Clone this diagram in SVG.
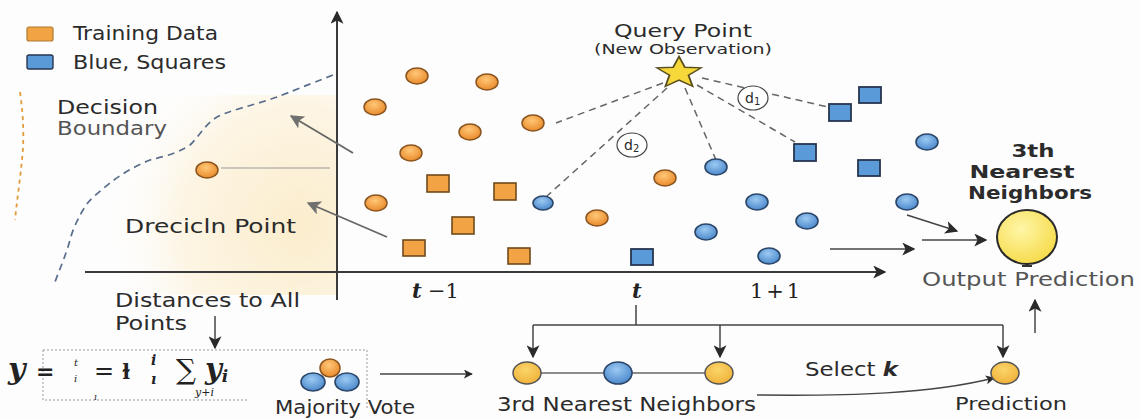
<svg xmlns="http://www.w3.org/2000/svg" width="1140" height="419" viewBox="0 0 1140 419">
<defs>
<style>
.t{font-family:"DejaVu Sans","Liberation Sans",sans-serif;fill:#2b2b2b}
.g{font-family:"DejaVu Sans","Liberation Sans",sans-serif;fill:#555}
.m{font-family:"DejaVu Serif","Liberation Serif",serif;fill:#222}
.oc{fill:url(#og);stroke:#8a5520;stroke-width:1.5}
.bc{fill:url(#bg);stroke:#2c4668;stroke-width:1.6}
.yc{fill:url(#yg);stroke:#555;stroke-width:1.5}
.os{fill:#f2a344;stroke:#6e4a1c;stroke-width:1.6}
.bs{fill:#5a9ad8;stroke:#26364f;stroke-width:1.8}
.ax{stroke:#3a3a3a;stroke-width:2;fill:none}
.dash{stroke:#666;stroke-width:1.5;stroke-dasharray:7 5;fill:none}
.ln{stroke:#444;stroke-width:1.5;fill:none}
.gr{stroke:#666;stroke-width:1.8;fill:none}
.dot{stroke:#999;stroke-width:1;stroke-dasharray:2 2;fill:none}
</style>
<radialGradient id="og" cx="45%" cy="35%" r="65%"><stop offset="0" stop-color="#ffc778"/><stop offset="1" stop-color="#ea8a2a"/></radialGradient>
<radialGradient id="bg" cx="45%" cy="35%" r="65%"><stop offset="0" stop-color="#9ccaf2"/><stop offset="1" stop-color="#4b88cc"/></radialGradient>
<radialGradient id="yg" cx="45%" cy="35%" r="65%"><stop offset="0" stop-color="#fbd56a"/><stop offset="1" stop-color="#f0b23a"/></radialGradient>
<radialGradient id="big" cx="40%" cy="35%" r="65%"><stop offset="0" stop-color="#fff6a8"/><stop offset="1" stop-color="#f6dc4e"/></radialGradient>
<radialGradient id="beige" cx="300" cy="225" r="200" gradientUnits="userSpaceOnUse"><stop offset="0" stop-color="#fbedcd"/><stop offset="0.6" stop-color="#fdf5e4"/><stop offset="1" stop-color="#ffffff" stop-opacity="0"/></radialGradient>
<marker id="ah" viewBox="0 0 10 10" refX="9" refY="5" markerWidth="9" markerHeight="9" markerUnits="userSpaceOnUse" orient="auto"><path d="M0,0 L10,5 L0,10 L2.5,5 z" fill="#2a2a2a"/></marker>
<marker id="ahb" viewBox="0 0 10 10" refX="9" refY="5" markerWidth="13" markerHeight="13" markerUnits="userSpaceOnUse" orient="auto"><path d="M0,0 L10,5 L0,10 L2.5,5 z" fill="#2a2a2a"/></marker>
<marker id="ahg" viewBox="0 0 10 10" refX="9" refY="5" markerWidth="14" markerHeight="14" markerUnits="userSpaceOnUse" orient="auto"><path d="M0,0 L10,5 L0,10 L2.5,5 z" fill="#707070"/></marker>
</defs>
<rect width="1140" height="419" fill="#fdfdfd"/>
<rect x="85" y="95" width="251" height="200" fill="url(#beige)"/>

<g id="legend">
<rect x="27" y="27" width="26" height="14" rx="2" fill="#f2a344" stroke="#b07a30" stroke-width="1.2"/>
<text class="t" x="73" y="40" font-size="19.5" textLength="145" lengthAdjust="spacingAndGlyphs">Training Data</text>
<rect x="27" y="55" width="26" height="14" rx="2" fill="#5a9ad8" stroke="#26364f" stroke-width="1.4"/>
<text class="t" x="73" y="69" font-size="19.5" textLength="153" lengthAdjust="spacingAndGlyphs">Blue, Squares</text>
</g>

<g id="decision-boundary">
<path d="M333,75 C310,84 290,92 277,97 C255,105 230,110 217,117 C205,124 198,138 190,145 C175,155 160,157 150,160 C135,166 120,175 110,183 C98,193 88,200 83,210 C76,222 72,232 70,240 C66,255 60,268 55,282" stroke="#5a6e8c" stroke-width="1.7" stroke-dasharray="7 5" fill="none"/>
<path d="M20,92 C24,120 24,140 22,160 C20,180 17,200 15,220" stroke="#e09a3a" stroke-width="1.8" stroke-dasharray="4 4" fill="none"/>
<text class="t" x="57" y="114" font-size="19.5" textLength="101" lengthAdjust="spacingAndGlyphs">Decision</text>
<text class="g" x="57" y="135" font-size="19.5" textLength="110" lengthAdjust="spacingAndGlyphs">Boundary</text>
</g>

<g id="decision-point">
<ellipse class="oc" cx="207" cy="170" rx="11" ry="8"/>
<line x1="221" y1="168" x2="330" y2="168" stroke="#999" stroke-width="1.2"/>
<text class="t" x="125" y="233" font-size="19.5" textLength="171" lengthAdjust="spacingAndGlyphs">Drecicln Point</text>
</g>

<g id="axes">
<line class="ax" x1="337" y1="300" x2="337" y2="12" marker-end="url(#ahb)"/>
<line class="ax" x1="85" y1="272" x2="885" y2="272" marker-end="url(#ahb)"/>
<text class="m" x="412" y="298" font-size="21" font-weight="bold" font-style="italic">t</text>
<text class="m" x="428" y="298" font-size="21">−1</text>
<text class="m" x="632" y="298" font-size="21" font-weight="bold" font-style="italic">t</text>
<text class="m" x="750" y="298" font-size="21" textLength="50" lengthAdjust="spacing">1+1</text>
</g>

<g id="connectors">
<line class="gr" x1="353" y1="153" x2="291" y2="116" marker-end="url(#ahg)"/>
<line class="gr" x1="387" y1="237" x2="308" y2="203" marker-end="url(#ahg)"/>
<line class="dash" x1="663" y1="83" x2="556" y2="123"/>
<line class="dash" x1="667" y1="88" x2="547" y2="196"/>
<line class="dash" x1="685" y1="88" x2="716" y2="160"/>
<line class="dash" x1="697" y1="85" x2="795" y2="142"/>
<line class="dash" x1="702" y1="78" x2="828" y2="107"/>
<line class="ln" x1="907" y1="215" x2="957" y2="231" marker-end="url(#ahb)"/>
<line class="ln" x1="922" y1="240" x2="986" y2="240" marker-end="url(#ahb)"/>
<line class="ln" x1="830" y1="249" x2="914" y2="249" marker-end="url(#ahb)"/>
<line class="ln" x1="215" y1="316" x2="215" y2="348" stroke-width="2.2" marker-end="url(#ahb)"/>
<line class="ln" x1="380" y1="374" x2="472" y2="374" marker-end="url(#ah)"/>
<path class="ln" d="M636,305 V325 M533,325 H1003"/>
<line class="ln" x1="533" y1="325" x2="533" y2="357" marker-end="url(#ahb)"/>
<line class="ln" x1="720" y1="325" x2="720" y2="357" marker-end="url(#ahb)"/>
<line class="ln" x1="1003" y1="325" x2="1003" y2="357" marker-end="url(#ahb)"/>
<line class="ln" x1="1035" y1="333" x2="1035" y2="300" marker-end="url(#ahb)"/>
<path class="ln" d="M757,395 C850,396 930,394 994,378" marker-end="url(#ah)"/>
<line x1="541" y1="373" x2="604" y2="373" stroke="#666" stroke-width="1.3"/>
<line x1="632" y1="373" x2="705" y2="373" stroke="#666" stroke-width="1.3"/>
</g>

<g id="training-points">
<ellipse class="oc" cx="417" cy="76" rx="11" ry="8"/>
<ellipse class="oc" cx="487" cy="82" rx="11" ry="8"/>
<ellipse class="oc" cx="375" cy="107" rx="11" ry="8"/>
<ellipse class="oc" cx="470" cy="132" rx="11" ry="8"/>
<ellipse class="oc" cx="533" cy="123" rx="11" ry="8"/>
<ellipse class="oc" cx="411" cy="153" rx="11" ry="8"/>
<ellipse class="oc" cx="376" cy="203" rx="11" ry="8"/>
<ellipse class="oc" cx="597" cy="218" rx="11" ry="8"/>
<ellipse class="oc" cx="665" cy="178" rx="11" ry="8"/>
<rect class="os" x="427" y="175" width="22" height="17"/>
<rect class="os" x="494" y="183" width="22" height="17"/>
<rect class="os" x="452" y="217" width="22" height="17"/>
<rect class="os" x="403" y="240" width="22" height="16"/>
<rect class="os" x="508" y="248" width="22" height="16"/>
</g>

<g id="blue-points">
<ellipse class="bc" cx="543" cy="203" rx="10" ry="7"/>
<ellipse class="bc" cx="716" cy="167" rx="11" ry="8"/>
<ellipse class="bc" cx="927" cy="142" rx="11" ry="8"/>
<ellipse class="bc" cx="757" cy="202" rx="11" ry="8"/>
<ellipse class="bc" cx="907" cy="202" rx="11" ry="8"/>
<ellipse class="bc" cx="807" cy="221" rx="11" ry="8"/>
<ellipse class="bc" cx="706" cy="232" rx="11" ry="8"/>
<ellipse class="bc" cx="769" cy="256" rx="11" ry="8"/>
<rect class="bs" x="859" y="87" width="22" height="16"/>
<rect class="bs" x="829" y="104" width="22" height="17"/>
<rect class="bs" x="794" y="144" width="22" height="17"/>
<rect class="bs" x="858" y="160" width="22" height="16"/>
<rect class="bs" x="631" y="249" width="22" height="16"/>
</g>

<g id="query-point">
<polygon transform="translate(679,73) scale(1.05,0.75)" points="0,-22 5.58,-7.69 20.92,-6.8 9.04,2.94 12.93,17.8 0,9.5 -12.93,17.8 -9.04,2.94 -20.92,-6.8 -5.58,-7.69" fill="#f7d83a" stroke="#5a5020" stroke-width="1.8"/>
<text class="t" x="683" y="37" font-size="17" text-anchor="middle" textLength="138" lengthAdjust="spacingAndGlyphs">Query Point</text>
<text class="t" x="683" y="54" font-size="14" text-anchor="middle" textLength="178" lengthAdjust="spacingAndGlyphs">(New Observation)</text>
</g>

<g id="d1">
<ellipse cx="753" cy="98" rx="15" ry="12" fill="#fff" stroke="#444" stroke-width="1.2"/>
<text class="t" x="745" y="103" font-size="14">d<tspan font-size="10" dy="2">1</tspan></text>
</g>
<g id="d2">
<ellipse cx="632" cy="145" rx="15" ry="12" fill="#fff" stroke="#444" stroke-width="1.2"/>
<text class="t" x="624" y="150" font-size="14">d<tspan font-size="10" dy="2">2</tspan></text>
</g>

<g id="output-prediction">
<text class="t" x="1033" y="157" font-size="18" font-weight="bold" text-anchor="middle" textLength="43" lengthAdjust="spacingAndGlyphs">3th</text>
<text class="t" x="1022" y="178" font-size="18" font-weight="bold" text-anchor="middle" textLength="105" lengthAdjust="spacingAndGlyphs">Nearest</text>
<text class="t" x="1030" y="199" font-size="18" font-weight="bold" text-anchor="middle" textLength="124" lengthAdjust="spacingAndGlyphs">Neighbors</text>
<path d="M1027,265 V258 M1022,266 H1032" stroke="#333" stroke-width="2" fill="none"/>
<ellipse cx="1027" cy="237" rx="30" ry="27" fill="url(#big)" stroke="#2a2a2a" stroke-width="2"/>
<text class="g" x="922" y="286" font-size="20" textLength="213" lengthAdjust="spacingAndGlyphs">Output Prediction</text>
</g>

<g id="distances">
<text class="t" x="115" y="307" font-size="19.5" textLength="185" lengthAdjust="spacingAndGlyphs">Distances to All</text>
<text class="t" x="115" y="330" font-size="19.5" textLength="72" lengthAdjust="spacingAndGlyphs">Points</text>
</g>

<g id="formula">
<path class="dot" d="M43,350 H367 V408 M43,350 V400 H247"/>
<text class="m" x="8" y="379" font-size="30" font-weight="bold" font-style="italic">y</text>
<text class="m" x="36" y="379" font-size="22" font-weight="bold">=</text>
<text class="m" x="74" y="366" font-size="10" fill="#888" font-style="italic">t</text>
<text class="m" x="74" y="382" font-size="10" fill="#888" font-style="italic">i</text>
<text class="m" x="94" y="379" font-size="24">=</text>
<text class="m" x="122" y="379" font-size="20" font-weight="bold">ɫ</text>
<text class="m" x="151" y="365" font-size="14" font-weight="bold" font-style="italic">i</text>
<text class="m" x="151" y="384" font-size="14" font-weight="bold" font-style="italic">ı</text>
<text class="m" x="176" y="379" font-size="28">∑</text>
<text class="m" x="205" y="379" font-size="29" font-weight="bold" font-style="italic">y<tspan font-size="17" dy="3">i</tspan></text>
<text class="m" x="195" y="396" font-size="11" fill="#777" font-style="italic">y+i</text>
<text class="m" x="94" y="400" font-size="9" fill="#888" font-style="italic">ı</text>
</g>

<g id="majority-vote">
<ellipse class="bc" cx="313" cy="382" rx="12" ry="9"/>
<ellipse class="bc" cx="347" cy="382" rx="12" ry="9"/>
<ellipse class="oc" cx="330" cy="368" rx="10" ry="9"/>
<text class="t" x="275" y="414" font-size="19.5" textLength="140" lengthAdjust="spacingAndGlyphs">Majority Vote</text>
</g>

<g id="nearest-neighbors">
<ellipse class="yc" cx="527" cy="373" rx="14" ry="11"/>
<ellipse class="bc" cx="618" cy="373" rx="14" ry="11"/>
<ellipse class="yc" cx="719" cy="373" rx="14" ry="11"/>
<text class="t" x="497" y="411" font-size="19.5" textLength="259" lengthAdjust="spacingAndGlyphs">3rd Nearest Neighbors</text>
</g>

<g id="select-k">
<text class="t" x="805" y="376" font-size="19.5" textLength="93" lengthAdjust="spacingAndGlyphs">Select <tspan font-weight="bold" font-style="italic">k</tspan></text>
</g>

<g id="prediction">
<ellipse class="yc" cx="1005" cy="373" rx="14" ry="11"/>
<text class="t" x="955" y="410" font-size="18" textLength="112" lengthAdjust="spacingAndGlyphs">Prediction</text>
</g>
</svg>
